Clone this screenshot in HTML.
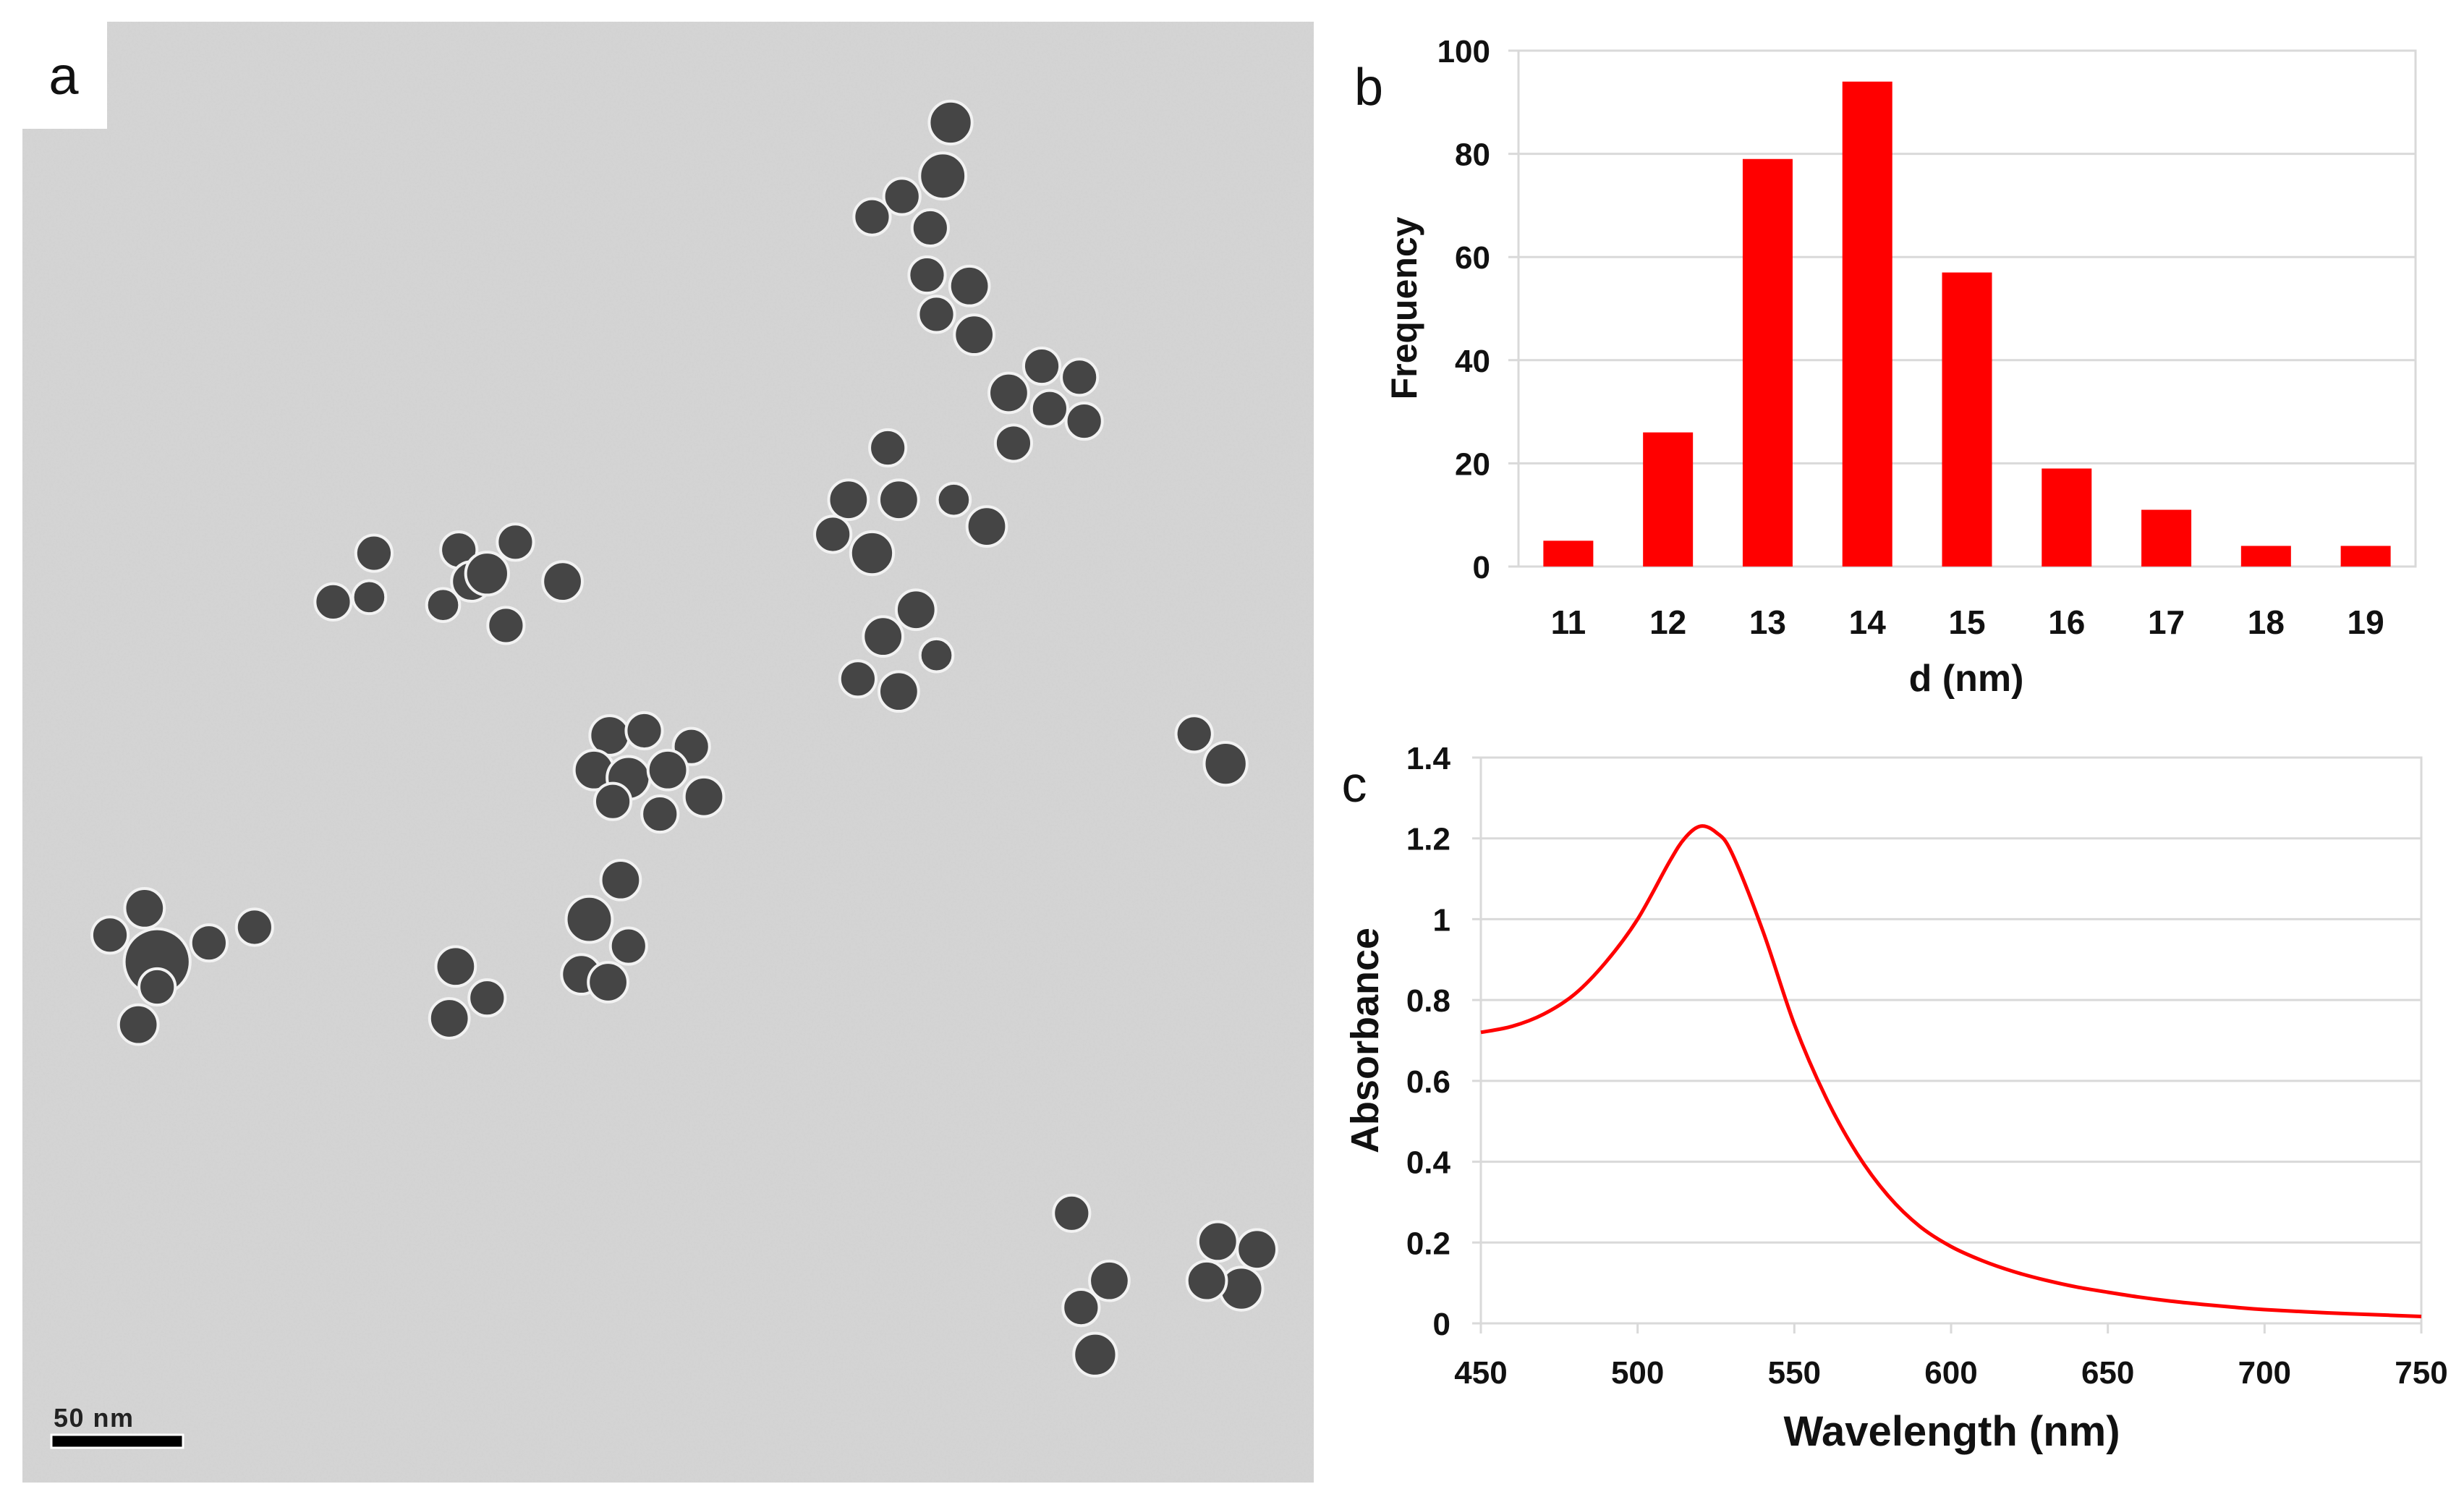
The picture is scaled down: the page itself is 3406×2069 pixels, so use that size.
<!DOCTYPE html>
<html><head><meta charset="utf-8">
<style>
html,body{margin:0;padding:0;background:#fff;}
svg{display:block;}
text{font-family:"Liberation Sans",sans-serif;}
</style></head>
<body>
<svg id="fig" width="3406" height="2069" viewBox="0 0 3406 2069" xmlns="http://www.w3.org/2000/svg">
<defs>
<filter id="noise" x="0" y="0" width="100%" height="100%">
<feTurbulence type="fractalNoise" baseFrequency="0.35" numOctaves="2" seed="3" result="n"/>
<feColorMatrix in="n" type="matrix" values="0 0 0 0 0.6  0 0 0 0 0.6  0 0 0 0 0.6  1.2 0 0 0 -0.45" result="m"/>
<feComposite in="m" in2="SourceGraphic" operator="in"/>
</filter>
<clipPath id="tem-clip"><rect x="31" y="30" width="1785" height="2019"/></clipPath>
</defs>

<g id="panel-a">
<rect x="31" y="30" width="1785" height="2019" fill="#d4d4d4"/>
<rect x="31" y="30" width="1785" height="2019" fill="#000" opacity="0.4" filter="url(#noise)"/>
<g id="particles" clip-path="url(#tem-clip)"></g>
<rect x="30" y="30" width="118" height="148" fill="#fff"/>
<text x="88" y="130" font-size="74" text-anchor="middle" fill="#111">a</text>
<rect x="71" y="1983" width="182" height="18" fill="#000" stroke="#fff" stroke-width="3"/>
<text x="74" y="1972" font-size="36" font-weight="bold" fill="#222" textLength="110">50 nm</text>
</g>

<g id="panel-b">
<text x="1892" y="145" font-size="72" fill="#111" text-anchor="middle">b</text>
<g id="b-grid"></g>
<g id="b-bars"></g>
<g id="b-yticks"></g>
<g id="b-xticks"></g>
<text x="2718" y="955" font-size="52" font-weight="bold" text-anchor="middle" fill="#111">d (nm)</text>
<text transform="translate(1958,426) rotate(-90)" font-size="50" font-weight="bold" text-anchor="middle" fill="#111">Frequency</text>
</g>

<g id="panel-c">
<text x="1872" y="1108" font-size="70" fill="#111" text-anchor="middle">c</text>
<g id="c-grid"></g>
<g id="c-yticks"></g>
<g id="c-xticks"></g>
<path id="c-line" fill="none" stroke="#ff0000" stroke-width="5"/>
<text x="2698" y="1998" font-size="58" font-weight="bold" text-anchor="middle" fill="#111">Wavelength (nm)</text>
<text transform="translate(1905,1438) rotate(-90)" font-size="54" font-weight="bold" text-anchor="middle" fill="#111">Absorbance</text>
</g>
</svg>
<script>
// ---- Histogram data (panel b)
const sizes = [11,12,13,14,15,16,17,18,19];
const counts = [5,26,79,94,57,19,11,4,4];
const freqTicks = [0,20,40,60,80,100];
// ---- Spectrum data (panel c)
const wavelengths = [450,460,470,480,490,500,510,515,520,525,530,540,550,560,570,580,590,600,610,620,630,640,650,660,670,680,690,700,720,740,750];
const absorbance = [0.72,0.735,0.765,0.815,0.895,1.0,1.14,1.2,1.23,1.215,1.165,0.97,0.74,0.56,0.42,0.315,0.24,0.19,0.155,0.128,0.107,0.09,0.077,0.065,0.055,0.047,0.04,0.034,0.026,0.02,0.017];
const absTicks = [0,0.2,0.4,0.6,0.8,1,1.2,1.4];
const wlTicks = [450,500,550,600,650,700,750];
// ---- TEM particle centres (approximate, display units)
const particleX = [605,600,574,555,592,590,617,596,620,642,663,687,668,690,645,565,572,540,607,628,530,555,583,562,596,546,572,238,212,235,292,300,328,358,282,322,310,388,410,440,378,400,425,448,390,420,395,375,400,370,387,290,310,286,92,70,100,133,162,88,100,760,780,682,706,688,697,775,800,790,768];
const particleY = [78,112,125,138,145,175,182,200,213,250,233,240,260,268,282,285,318,318,318,335,340,352,388,405,417,432,440,352,383,380,350,370,345,370,385,398,365,468,465,475,490,495,490,507,510,518,560,585,602,620,625,615,635,648,578,595,612,600,590,652,628,467,486,772,815,832,862,790,795,820,815];
const particleR = [13,14,11,11,11,11,12,11,12,12,11,11,11,11,11,11,12,12,10,12,11,13,12,12,10,11,12,11,11,10,11,12,11,12,10,11,13,12,11,11,12,13,12,12,11,11,12,14,11,12,12,12,11,12,12,11,20,11,11,12,11,11,13,11,12,11,13,12,12,13,12];

const NS='http://www.w3.org/2000/svg';
function mk(tag, attrs, parent, txt){const e=document.createElementNS(NS,tag);for(const k in attrs)e.setAttribute(k,attrs[k]);if(txt!==undefined)e.textContent=txt;parent.appendChild(e);return e;}

// Particles
const S=2.172;
const pg=document.getElementById('particles');
for(let i=0;i<particleX.length;i++){
  const c=mk('circle',{cx:particleX[i]*S,cy:particleY[i]*S,r:particleR[i]*S*1.05,fill:'#454545',stroke:'#f2f2f2','stroke-width':4},pg);
  
  
}

// Panel b axes
const bL=2099,bR=3339,bT=70,bB=783;
const bx=i=>bL+(i+0.5)*(bR-bL)/sizes.length;
const by=v=>bB-(v/100)*(bB-bT);
const bgG=document.getElementById('b-grid');
mk('rect',{x:bL,y:bT,width:bR-bL,height:bB-bT,fill:'none',stroke:'#d9d9d9','stroke-width':3},bgG);
freqTicks.forEach(t=>{
  const l=mk('line',{x1:bL-14,x2:bR,y1:by(t),y2:by(t),stroke:'#d9d9d9','stroke-width':3},bgG);
  
  
  const tx=mk('text',{x:2060,y:by(t)+16,'font-size':44,'font-weight':'bold','text-anchor':'end',fill:'#111'},document.getElementById('b-yticks'),String(t));
  
  
});
const barsG=document.getElementById('b-bars');
const bw=69;
sizes.forEach((s,i)=>{
  const r=mk('rect',{x:bx(i)-bw/2,y:by(counts[i]),width:bw,height:bB-by(counts[i]),fill:'#ff0000'},barsG);
  
  
  const tx=mk('text',{x:bx(i),y:876,'font-size':46,'font-weight':'bold','text-anchor':'middle',fill:'#111'},document.getElementById('b-xticks'),String(s));
  
  
});

// Panel c axes
const cL=2047,cR=3347,cT=1047,cB=1829;
const cx=w=>cL+(w-450)/300*(cR-cL);
const cy=v=>cB-(v/1.4)*(cB-cT);
const cgG=document.getElementById('c-grid');
mk('rect',{x:cL,y:cT,width:cR-cL,height:cB-cT,fill:'none',stroke:'#d9d9d9','stroke-width':3},cgG);
absTicks.forEach(t=>{
  const l=mk('line',{x1:cL-12,x2:cR,y1:cy(t),y2:cy(t),stroke:'#d9d9d9','stroke-width':3},cgG);
  
  
  const tx=mk('text',{x:2005,y:cy(t)+16,'font-size':44,'font-weight':'bold','text-anchor':'end',fill:'#111'},document.getElementById('c-yticks'),String(t));
  
  
});
wlTicks.forEach(w=>{
  const l=mk('line',{x1:cx(w),x2:cx(w),y1:cB,y2:cB+14,stroke:'#d9d9d9','stroke-width':3},cgG);
  
  
  const tx=mk('text',{x:cx(w),y:1912,'font-size':44,'font-weight':'bold','text-anchor':'middle',fill:'#111'},document.getElementById('c-xticks'),String(w));
  
  
});
// smooth curve through points (Catmull-Rom)
const pts=wavelengths.map((w,i)=>[cx(w),cy(absorbance[i])]);
let d='M'+pts[0][0]+','+pts[0][1];
for(let i=0;i<pts.length-1;i++){
  const p0=pts[Math.max(0,i-1)],p1=pts[i],p2=pts[i+1],p3=pts[Math.min(pts.length-1,i+2)];
  const c1=[p1[0]+(p2[0]-p0[0])/6,p1[1]+(p2[1]-p0[1])/6];
  const c2=[p2[0]-(p3[0]-p1[0])/6,p2[1]-(p3[1]-p1[1])/6];
  d+=' C'+c1[0]+','+c1[1]+' '+c2[0]+','+c2[1]+' '+p2[0]+','+p2[1];
}
document.getElementById('c-line').setAttribute('d',d);
</script>
</body></html>
